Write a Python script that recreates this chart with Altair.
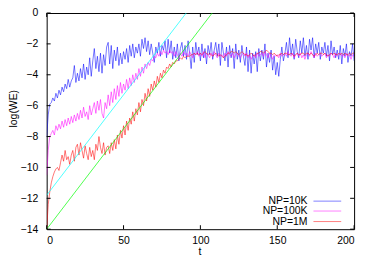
import altair as alt
import pandas as pd

t = list(range(201))

np10k = [
    -8.0, -6.6, -5.9, -5.8, -5.5, -5.7, -5.2, -5.5, -5.0, -5.3,
    -4.8, -5.1, -4.6, -4.9, -4.3, -4.8, -4.4, -4.2, -3.4, -4.5,
    -3.9, -4.4, -3.6, -4.2, -3.3, -4.3, -3.5, -4.0, -2.9, -4.1,
    -3.1, -2.3, -3.6, -2.8, -3.8, -2.6, -3.9, -2.7, -3.4, -2.2,
    -1.9, -3.3, -2.1, -3.6, -2.4, -3.1, -2.2, -3.4, -2.6, -3.3,
    -2.5, -3.0, -2.3, -3.2, -2.1, -2.8, -2.0, -2.9, -2.2, -2.6,
    -2.0, -2.8, -1.7, -2.3, -1.6, -2.5, -1.8, -2.7, -2.0, -2.6,
    -3.2, -2.2, -2.6, -1.9, -2.8, -2.1, -2.4, -1.8, -2.9, -1.7,
    -2.6, -1.8, -3.0, -2.2, -2.9, -2.0, -3.1, -2.3, -1.9, -2.8,
    -2.1, -3.0, -1.8, -2.6, -3.6, -2.2, -3.2, -1.9, -2.7, -2.2,
    -3.1, -2.0, -2.9, -2.3, -3.3, -2.1, -2.7, -1.9, -3.0, -2.4,
    -1.9, -2.8, -2.0, -3.4, -1.9, -2.6, -3.1, -2.2, -3.5, -2.1,
    -2.9, -2.3, -3.6, -2.0, -3.0, -2.4, -3.2, -2.1, -2.8, -3.4,
    -2.2, -3.8, -2.4, -3.9, -2.6, -3.3, -2.5, -3.8, -2.3, -3.1,
    -2.4, -3.0, -2.0, -3.5, -2.6, -3.2, -2.4, -3.7, -2.8, -4.0,
    -3.2, -4.1, -3.0, -2.2, -3.1, -2.6, -1.9, -2.9, -1.6, -2.7,
    -2.0, -3.0, -1.7, -2.5, -2.9, -1.8, -2.6, -1.6, -2.8, -2.1,
    -3.0, -1.7, -2.4, -1.6, -2.9, -2.0, -2.6, -1.9, -3.0, -2.2,
    -2.6, -1.9, -2.8, -2.1, -3.1, -1.8, -2.7, -2.2, -2.9, -2.4,
    -3.0, -2.1, -3.3, -2.3, -2.8, -2.0, -3.2, -2.5, -2.8, -2.0,
    -3.1,
]

np100k = [
    -10.5, -8.9, -8.0, -7.8, -7.6, -7.9, -7.3, -7.6, -7.2, -7.5,
    -7.0, -7.4, -6.9, -7.3, -6.8, -7.2, -6.7, -7.1, -6.6, -7.0,
    -6.5, -6.9, -6.3, -6.8, -6.1, -6.7, -6.4, -6.9, -6.0, -6.6,
    -6.2, -5.8, -6.5, -5.7, -6.3, -5.6, -6.5, -6.8, -5.8, -6.2,
    -5.3, -6.0, -5.1, -5.8, -4.9, -5.6, -4.7, -5.4, -4.5, -5.2,
    -4.6, -5.0, -4.3, -4.9, -4.2, -4.7, -4.0, -4.5, -3.9, -4.3,
    -3.6, -4.1, -3.5, -3.9, -3.3, -3.6, -3.2, -3.4, -3.0, -3.1,
    -2.8, -2.9, -2.6, -2.8, -2.5, -2.7, -2.4, -2.6, -2.5, -2.7,
    -2.4, -2.6, -2.5, -2.8, -2.5, -2.7, -2.9, -2.6, -2.8, -2.5,
    -2.7, -2.6, -2.8, -2.5, -2.7, -2.9, -2.6, -2.7, -2.5, -2.8,
    -2.6, -2.8, -2.5, -2.9, -2.6, -2.7, -2.9, -2.6, -2.8, -2.5,
    -2.7, -2.9, -2.6, -2.8, -2.7, -2.9, -2.6, -2.8, -2.5, -2.7,
    -2.8, -2.6, -2.9, -2.7, -2.6, -2.8, -2.9, -2.7, -2.6, -2.8,
    -2.6, -2.9, -2.7, -3.0, -2.8, -2.7, -2.9, -2.6, -2.8, -2.7,
    -2.6, -2.8, -2.5, -2.7, -2.9, -2.6, -2.8, -3.0, -2.7, -2.8,
    -2.7, -2.9, -2.6, -2.8, -2.7, -2.6, -2.8, -2.5, -2.7, -2.8,
    -2.6, -2.9, -2.7, -2.6, -2.8, -2.6, -2.9, -2.7, -3.0, -2.7,
    -2.6, -2.8, -2.5, -2.7, -2.9, -2.6, -2.8, -2.7, -2.6, -2.8,
    -2.7, -2.6, -2.9, -2.7, -2.8, -2.6, -2.7, -2.9, -2.6, -2.8,
    -2.7, -2.6, -2.8, -2.7, -2.9, -2.6, -2.8, -2.7, -3.0, -2.7,
    -2.8,
]

np1m = [
    -14.0, -12.4, -11.6, -11.0, -10.6, -10.3, -10.1, -10.0, -10.2, -9.7,
    -9.2, -9.6, -8.9, -9.5, -9.3, -9.8, -9.2, -8.9, -9.6, -8.7,
    -8.5, -9.2, -8.4, -8.9, -9.4, -8.6, -9.1, -9.5, -8.7, -9.3,
    -8.9, -9.5, -8.5, -8.9, -8.0, -8.7, -9.1, -8.4, -9.2, -8.7,
    -8.6, -9.1, -8.4, -8.9, -8.2, -8.8, -7.9, -8.5, -7.6, -8.1,
    -7.3, -7.9, -7.0, -7.6, -6.8, -7.2, -6.4, -7.0, -6.2, -6.6,
    -5.8, -6.4, -5.6, -6.0, -5.2, -5.7, -4.9, -5.4, -4.6, -5.0,
    -4.4, -4.8, -4.1, -4.5, -3.9, -4.2, -3.7, -3.9, -3.5, -3.6,
    -3.3, -3.5, -3.2, -3.3, -3.1, -3.1, -3.0, -2.9, -3.0, -2.8,
    -2.9, -2.8, -2.8, -2.8, -2.7, -2.7, -2.6, -2.7, -2.6, -2.7,
    -2.6, -2.7, -2.6, -2.5, -2.6, -2.7, -2.6, -2.7, -2.8, -2.7,
    -2.6, -2.7, -2.8, -2.7, -2.8, -2.9, -2.8, -2.7, -2.6, -2.6,
    -2.5, -2.5, -2.6, -2.5, -2.6, -2.7, -2.6, -2.5, -2.6, -2.7,
    -2.7, -2.8, -2.7, -2.6, -2.7, -2.8, -2.7, -2.6, -2.6, -2.5,
    -2.5, -2.6, -2.5, -2.4, -2.5, -2.6, -2.6, -2.7, -2.6, -2.7,
    -2.8, -2.7, -2.7, -2.6, -2.7, -2.6, -2.6, -2.7, -2.7, -2.6,
    -2.7, -2.8, -2.7, -2.6, -2.7, -2.7, -2.6, -2.6, -2.7, -2.6,
    -2.6, -2.7, -2.6, -2.7, -2.8, -2.7, -2.6, -2.7, -2.6, -2.6,
    -2.7, -2.6, -2.7, -2.8, -2.7, -2.6, -2.7, -2.6, -2.7, -2.7,
    -2.6, -2.7, -2.6, -2.7, -2.6, -2.7, -2.7, -2.6, -2.7, -2.6,
    -2.6,
]

fit_t = [0, 120]
cyan_fit = [-11.8, 3.8]
green_fit = [-14.0, 1.6]

x_ticks = [0, 50, 100, 150, 200]
y_ticks = [-14, -12, -10, -8, -6, -4, -2, 0]

series_names = ["NP=10K", "NP=100K", "NP=1M"]
series_colors = ["#0000ff", "#ff00ff", "#ff0000"]

W, H = 310, 218
FONT = "Liberation Sans"
FS = 10.5

x_enc = alt.X("t:Q", scale=alt.Scale(domain=[0, 200], nice=False, zero=False),
              axis=alt.Axis(values=x_ticks, ticks=False, domain=False, grid=False,
                            labelPadding=6, title="t", titleX=154, titleY=23,
                            titleBaseline="middle", titleAlign="center"))
y_enc = alt.Y("value:Q", scale=alt.Scale(domain=[-14, 0], nice=False, zero=False),
              axis=alt.Axis(values=y_ticks, ticks=False, domain=False, grid=False,
                            labelPadding=9, title="log(WE)", titleAngle=270,
                            titleX=-33, titleY=96, titleAlign="center",
                            titleBaseline="middle"))

layers = []
for name, col, vals in zip(series_names, series_colors, [np10k, np100k, np1m]):
    df = pd.DataFrame({"t": t, "value": vals})
    layers.append(alt.Chart(df).mark_line(color=col, strokeWidth=0.9, opacity=0.6, clip=True)
                  .encode(x=x_enc, y=y_enc))

for col, vals in zip(["#00ffff", "#00ff00"], [cyan_fit, green_fit]):
    df = pd.DataFrame({"t": fit_t, "value": vals})
    layers.append(alt.Chart(df).mark_line(color=col, strokeWidth=1, opacity=0.7, clip=True)
                  .encode(x=x_enc, y=y_enc))

# inward ticks on all four sides
xt = pd.DataFrame({"t": x_ticks})
yt = pd.DataFrame({"value": y_ticks})
TL = 4
layers.append(alt.Chart(xt).mark_rule(color="black", strokeWidth=1)
              .encode(x=x_enc, y=alt.value(H), y2=alt.value(H - TL)))
layers.append(alt.Chart(xt).mark_rule(color="black", strokeWidth=1)
              .encode(x=x_enc, y=alt.value(0), y2=alt.value(TL)))
layers.append(alt.Chart(yt).mark_rule(color="black", strokeWidth=1)
              .encode(y=y_enc, x=alt.value(0), x2=alt.value(TL)))
layers.append(alt.Chart(yt).mark_rule(color="black", strokeWidth=1)
              .encode(y=y_enc, x=alt.value(W), x2=alt.value(W - TL)))

# key (gnuplot style: label left, sample right)
row_y = [189.7, 199.7, 210.3]
for name, col, ry in zip(series_names, series_colors, row_y):
    d = pd.DataFrame({"name": [name]})
    layers.append(alt.Chart(d).mark_text(align="right", baseline="middle", font=FONT,
                                         fontSize=FS, color="black")
                  .encode(text="name:N", x=alt.value(263), y=alt.value(ry)))
    layers.append(alt.Chart(d).mark_rule(color=col, strokeWidth=1, opacity=0.5)
                  .encode(x=alt.value(269), x2=alt.value(297), y=alt.value(ry)))

chart = (alt.layer(*layers)
         .properties(width=W, height=H,
                     autosize=alt.AutoSizeParams(type="none"),
                     padding={"left": 39, "top": 4, "right": 12, "bottom": 28})
         .configure_view(stroke="black", strokeWidth=1)
         .configure_axis(labelFont=FONT, labelFontSize=FS, labelColor="black",
                         titleFont=FONT, titleFontSize=FS, titleColor="black",
                         titleFontWeight="normal"))

chart.save("out.html", embed_options={"renderer": "svg", "actions": False})
